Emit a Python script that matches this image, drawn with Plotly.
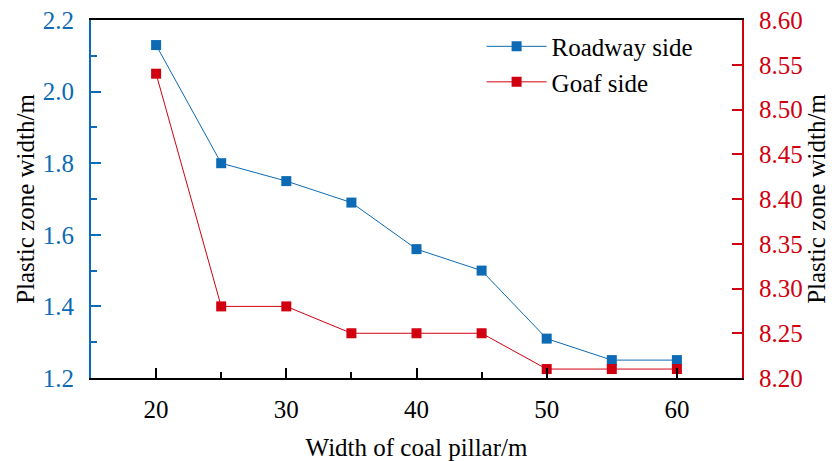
import plotly.graph_objects as go

width_m = [20, 25, 30, 35, 40, 45, 50, 55, 60]
roadway = [2.13, 1.80, 1.75, 1.69, 1.56, 1.50, 1.31, 1.25, 1.25]
goaf = [8.54, 8.28, 8.28, 8.25, 8.25, 8.25, 8.21, 8.21, 8.21]

BLUE = "#0c6bb4"
RED = "#d00010"
FONT = "Liberation Serif"

fig = go.Figure()
fig.add_trace(go.Scatter(x=width_m, y=roadway, name="Roadway side", mode="lines+markers",
                         line=dict(color=BLUE, width=1),
                         marker=dict(symbol="square", size=10, color=BLUE, line=dict(width=0))))
fig.add_trace(go.Scatter(x=width_m, y=goaf, name="Goaf side", mode="lines+markers", yaxis="y2",
                         line=dict(color=RED, width=1),
                         marker=dict(symbol="square", size=10, color=RED, line=dict(width=0))))

fig.update_layout(
    width=834, height=461,
    margin=dict(l=91, r=92, t=20, b=83),
    plot_bgcolor="white", paper_bgcolor="white",
    font=dict(family=FONT, size=25, color="black"),
    showlegend=True,
    legend=dict(x=0.600, y=0.99, xanchor="left", yanchor="top",
                bgcolor="rgba(0,0,0,0)", font=dict(size=25, family=FONT),
                tracegroupgap=0, itemwidth=60),
    xaxis=dict(range=[15, 65], tickvals=[20, 30, 40, 50, 60], ticks="inside", ticklen=10,
               tickwidth=1.8, tickcolor="black", automargin=False,
               minor=dict(tickvals=[25, 35, 45], ticks="inside", ticklen=6, tickcolor="black", tickwidth=1.8),
               showline=True, linecolor="black", linewidth=1.8, mirror=True,
               showgrid=False, zeroline=False,
               tickfont=dict(size=25, family=FONT, color="black"),
               ticklabelstandoff=8,
               title=dict(text="Width of coal pillar/m", font=dict(size=25, family=FONT), standoff=22)),
    yaxis=dict(range=[1.2, 2.2], tickvals=[1.2, 1.4, 1.6, 1.8, 2.0, 2.2], tickformat=".1f",
               ticks="inside", ticklen=10, tickwidth=1.8, tickcolor=BLUE, automargin=False,
               minor=dict(tickvals=[1.3, 1.5, 1.7, 1.9, 2.1], ticks="inside", ticklen=6, tickcolor=BLUE, tickwidth=1.8),
               showline=True, linecolor=BLUE, linewidth=1.8,
               showgrid=False, zeroline=False,
               tickfont=dict(size=25, family=FONT, color=BLUE),
               ticklabelstandoff=10,
               title=dict(text="Plastic zone width/m", font=dict(size=25, family=FONT, color="black"), standoff=1)),
    yaxis2=dict(range=[8.2, 8.6], dtick=0.05, tick0=8.2, tickformat=".2f", overlaying="y", side="right",
                ticks="inside", ticklen=10, tickwidth=1.8, tickcolor=RED, automargin=False,
                showline=True, linecolor=RED, linewidth=1.8,
                showgrid=False, zeroline=False,
                tickfont=dict(size=25, family=FONT, color=RED),
                ticklabelstandoff=10,
                title=dict(text="Plastic zone width/m", font=dict(size=25, family=FONT, color="black"), standoff=6)),
)

fig.write_html("out.html")
